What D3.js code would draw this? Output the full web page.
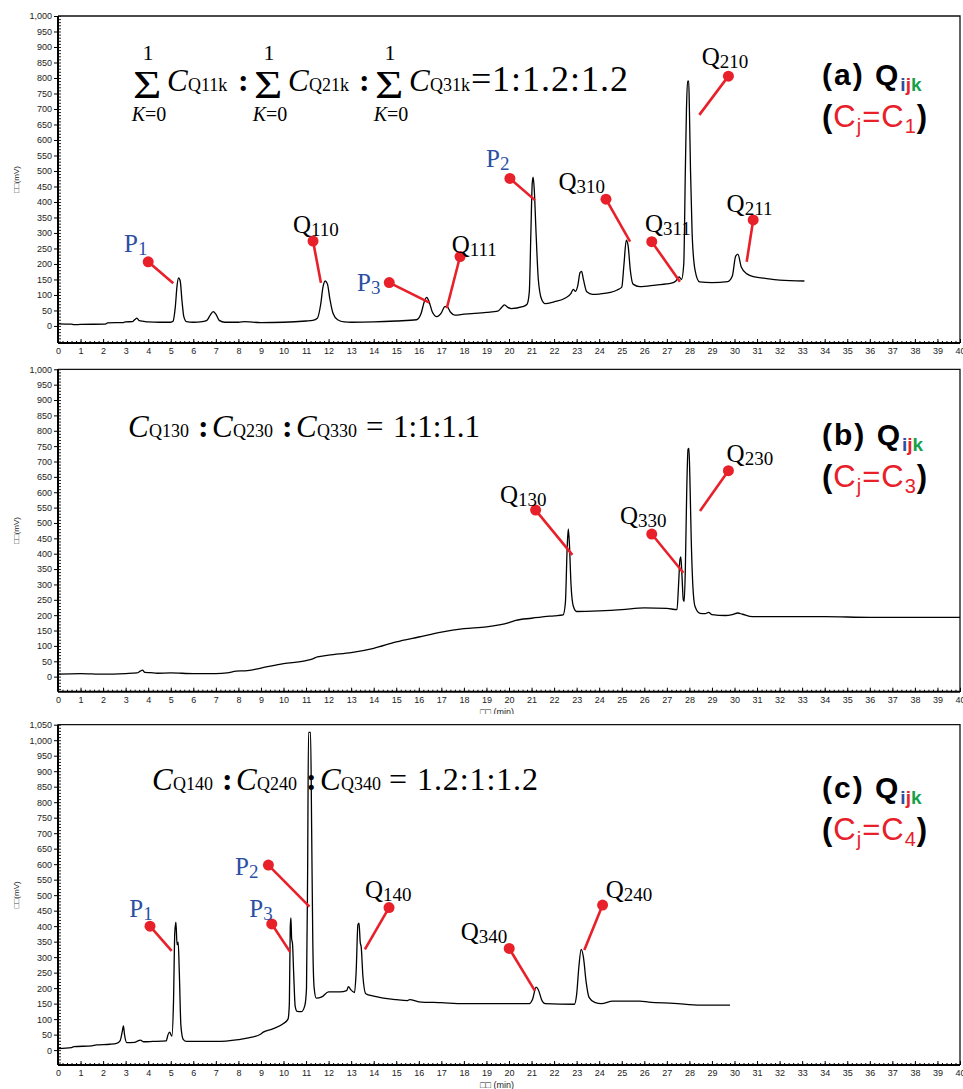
<!DOCTYPE html>
<html>
<head>
<meta charset="utf-8">
<script src="https://cdnjs.cloudflare.com/ajax/libs/d3/7.8.5/d3.min.js"></script>
<style>
  body { margin: 0; background: #fff; }
  svg { display: block; }
  .tick text { font-family: "Liberation Sans", Arial, sans-serif; font-size: 9px; fill: #222; }
  .serif { font-family: "Liberation Serif", "Times New Roman", serif; }
  .sans { font-family: "Liberation Sans", Arial, sans-serif; }
</style>
</head>
<body>
<svg id="chart" width="963" height="1089"></svg>
<script>
// chromatogram traces, [time (min), signal]
const traceA = [
  [0,7],[0.6,6],[0.7,4],[1.0,5],[2.1,6],[2.2,10],[2.9,11],[3.0,13],[3.3,14],[3.4,20],[3.5,25],[3.6,17],
  [3.8,15],[4.0,13],[4.5,12],[5.0,12],[5.1,15],[5.2,60],[5.28,130],[5.35,155],[5.42,145],[5.5,80],
  [5.58,30],[5.7,14],[6.0,12],[6.4,14],[6.6,18],[6.75,35],[6.88,46],[7.0,38],[7.15,18],[7.4,12],
  [8.0,12],[8.3,14],[8.5,13],[9.0,11],[10.0,12],[11.0,16],[11.3,18],[11.5,25],[11.65,70],[11.75,125],
  [11.85,145],[11.95,135],[12.05,90],[12.2,40],[12.4,20],[12.7,13],[13.0,12],[14.0,13],[15.0,16],
  [15.9,20],[16.1,40],[16.25,80],[16.35,92],[16.45,80],[16.6,45],[16.8,30],[17.0,42],[17.15,62],
  [17.25,63],[17.4,45],[17.6,35],[18.0,38],[19.0,44],[19.5,48],[19.7,62],[19.8,68],[19.95,60],
  [20.1,56],[20.6,62],[20.8,70],[20.9,110],[20.97,300],[21.03,460],[21.07,480],[21.12,440],[21.2,300],
  [21.3,150],[21.45,85],[21.6,72],[22.0,78],[22.5,90],[22.75,105],[22.85,118],[22.95,112],[23.05,130],
  [23.15,172],[23.22,176],[23.3,150],[23.45,110],[23.7,102],[24.0,103],[24.5,108],[24.8,116],[25.0,125],
  [25.1,200],[25.2,277],[25.28,260],[25.38,180],[25.5,135],[25.8,127],[26.5,132],[27.2,138],[27.4,145],
  [27.55,158],[27.65,150],[27.75,200],[27.82,500],[27.87,700],[27.92,790],[27.97,790],[28.0,700],
  [28.05,500],[28.12,300],[28.25,180],[28.45,142],[29.0,140],[29.7,143],[29.9,160],[30.05,225],
  [30.15,232],[30.3,190],[30.55,168],[30.9,158],[31.3,154],[32.0,148],[33.1,145]
];

const traceB = [
  [0,8],[1,10],[2,8],[3,10],[3.5,12],[3.65,18],[3.75,21],[3.85,14],[4.1,13],[4.4,11],[5,12],[6,10],
  [7,10],[7.5,12],[7.9,18],[8.3,19],[9,28],[10,42],[11,52],[11.3,58],[11.5,64],[12,70],[13,78],[14,92],
  [15,113],[16,129],[17,145],[18,156],[19,162],[20,176],[20.3,183],[21,190],[22,198],[22.4,201],
  [22.5,240],[22.58,420],[22.63,481],[22.68,430],[22.75,300],[22.85,230],[23.0,212],[24,214],[25,218],
  [26,224],[27,222],[27.45,218],[27.52,300],[27.58,380],[27.62,390],[27.67,330],[27.73,250],[27.77,245],
  [27.82,350],[27.88,600],[27.94,740],[27.98,743],[28.02,650],[28.08,450],[28.15,300],[28.25,228],
  [28.47,206],[28.7,205],[28.85,209],[29.0,202],[29.6,199],[29.9,202],[30.15,207],[30.35,203],
  [30.8,195],[32,195],[34,195],[36,193],[40,193]
];

const traceC = [
  [0,5],[0.6,8],[0.7,11],[1.5,14],[1.7,17],[2.3,19],[2.6,22],[2.75,30],[2.85,60],[2.9,78],[2.95,50],
  [3.05,24],[3.4,25],[3.55,30],[3.65,32],[3.8,27],[4.2,28],[4.8,30],[4.88,50],[4.95,58],[5.05,45],
  [5.12,150],[5.18,380],[5.23,413],[5.28,340],[5.33,348],[5.38,250],[5.45,80],[5.55,35],[5.7,28],
  [7,28],[8,34],[8.5,40],[9,52],[9.1,58],[9.5,68],[10,86],[10.2,100],[10.26,150],[10.3,400],[10.33,427],
  [10.36,360],[10.4,343],[10.45,250],[10.52,140],[10.6,125],[10.8,124],[10.95,145],[11.02,200],
  [11.07,580],[11.11,1025],[11.2,1025],[11.25,700],[11.3,345],[11.36,200],[11.45,168],[11.7,172],
  [12.0,188],[12.5,188],[12.8,192],[12.88,205],[12.98,195],[13.15,186],[13.22,250],[13.3,405],
  [13.35,410],[13.4,350],[13.45,330],[13.52,240],[13.65,182],[14,174],[15,163],[15.5,160],[15.6,163],
  [16,156],[17,153],[18,150],[19,150],[20.9,150],[21.05,165],[21.2,203],[21.3,195],[21.45,162],
  [21.6,150],[22.9,148],[23.0,180],[23.1,270],[23.2,325],[23.3,300],[23.42,220],[23.55,170],
  [23.8,154],[24.1,150],[24.6,158],[25.8,158],[26.2,155],[27.3,151],[28.5,145],[29.8,145]
];

// peak call-outs: dot, line tip and label anchor in (time, signal)
const peaksA = [
  { name: 'P', sub: '1', dot: [4.0, 207], tip: [5.11, 138], label: [2.93, 240] },
  { name: 'Q', sub: '110', dot: [11.31, 274], tip: [11.66, 139], label: [10.42, 300] },
  { name: 'P', sub: '3', dot: [14.69, 140], tip: [16.47, 75], label: [13.26, 112] },
  { name: 'Q', sub: '111', dot: [17.83, 224], tip: [17.24, 57], label: [17.46, 234] },
  { name: 'P', sub: '2', dot: [20.04, 476], tip: [21.15, 406], label: [18.98, 514] },
  { name: 'Q', sub: '310', dot: [24.3, 409], tip: [25.37, 272], label: [22.19, 439] },
  { name: 'Q', sub: '311', dot: [26.33, 272], tip: [27.58, 143], label: [26.03, 304] },
  { name: 'Q', sub: '210', dot: [29.73, 806], tip: [28.44, 681], label: [28.55, 842] },
  { name: 'Q', sub: '211', dot: [30.83, 342], tip: [30.54, 207], label: [29.65, 369] }
];
const peaksB = [
  { name: 'Q', sub: '130', dot: [21.18, 542], tip: [22.81, 396], label: [19.6, 564] },
  { name: 'Q', sub: '330', dot: [26.33, 464], tip: [27.73, 338], label: [24.92, 497] },
  { name: 'Q', sub: '230', dot: [29.73, 670], tip: [28.47, 539], label: [29.65, 699] }
];
const peaksC = [
  { name: 'P', sub: '1', dot: [4.08, 400], tip: [5.04, 320], label: [3.16, 430] },
  { name: 'P', sub: '2', dot: [9.33, 597], tip: [11.15, 463], label: [7.85, 565] },
  { name: 'P', sub: '3', dot: [9.48, 407], tip: [10.29, 317], label: [8.48, 430] },
  { name: 'Q', sub: '140', dot: [14.68, 460], tip: [13.61, 325], label: [13.61, 490] },
  { name: 'Q', sub: '340', dot: [20.01, 328], tip: [21.15, 191], label: [17.86, 355] },
  { name: 'Q', sub: '240', dot: [24.15, 468], tip: [23.34, 323], label: [24.29, 490] }
];

// axis ticks
const xTicks = d3.range(0, 41);
const xMinor = d3.range(0, 40.01, 0.2);
const yTicksAB = d3.range(0, 1001, 50);
const yTicksC = d3.range(0, 1051, 50);

// ratio texts
const ratioA = ['1', '1.2', '1.2'];
const ratioB = ['1', '1', '1.1'];
const ratioC = ['1.2', '1', '1.2'];

const RED = '#e8202a', BLUE = '#2c4fa3', GREEN = '#15a04a';

const svg = d3.select('#chart');

const x = d3.scaleLinear().domain([0, 40]).range([58, 960]);

const panels = [
  { id: 'a', trace: traceA, peaks: peaksA, yTicks: yTicksAB, yDomain: [-55, 1000], yRange: [343, 16], top: 0, cj: '1', tagY: 85 },
  { id: 'b', trace: traceB, peaks: peaksB, yTicks: yTicksAB, yDomain: [-49, 1000], yRange: [691.7, 369.3], top: 360, cj: '3', tagY: 445 },
  { id: 'c', trace: traceC, peaks: peaksC, yTicks: yTicksC, yDomain: [-48, 1050], yRange: [1065, 724.7], top: 714, cj: '4', tagY: 798 }
];

panels.forEach(p => {
  const y = d3.scaleLinear().domain(p.yDomain).range(p.yRange);
  const g = svg.append('g').attr('class', 'panel-' + p.id);
  const [yBot, yTop] = p.yRange;

  // white backdrop so a panel covers the one above
  g.append('rect').attr('x', 0).attr('y', p.top).attr('width', 963).attr('height', yBot + 28 - p.top).attr('fill', '#fff');

  // frame top + right
  g.append('path')
    .attr('d', `M${x(0)},${yTop}H${x(40)}V${yBot}`)
    .attr('fill', 'none').attr('stroke', '#111').attr('stroke-width', 1.3);

  // y axis
  g.append('g').attr('transform', `translate(${x(0)},0)`)
    .call(d3.axisLeft(y).tickValues(d3.range(p.yDomain[0] < -50 ? -50 : -40, p.yTicks[p.yTicks.length - 1] + 1, 10)).tickSize(3).tickFormat(''))
    .call(a => a.select('.domain').remove())
    .call(a => a.selectAll('line').attr('x2', 3).attr('x1', -1).attr('stroke', '#222'));
  g.append('g').attr('transform', `translate(${x(0)},0)`)
    .call(d3.axisLeft(y).tickValues(p.yTicks).tickSize(4).tickPadding(2).tickFormat(d3.format(',')))
    .call(a => a.select('.domain').attr('d', `M0,${yBot}V${yTop}`).attr('stroke-width', 2));

  // x axis: minor + major ticks pointing up, labels below
  g.append('g').attr('transform', `translate(0,${yBot})`)
    .call(d3.axisBottom(x).tickValues(xMinor).tickSize(-2).tickFormat(''))
    .call(a => a.select('.domain').remove());
  g.append('g').attr('transform', `translate(0,${yBot})`)
    .call(d3.axisBottom(x).tickValues(xTicks).tickSize(-4).tickPadding(7).tickFormat(d3.format('d')))
    .call(a => a.select('.domain').attr('d', `M${x(0)},0H${x(40)}`).attr('stroke-width', 2))
    .call(a => a.selectAll('text').attr('dy', '0.45em'));

  // y label
  g.append('text').attr('class', 'sans')
    .attr('transform', `translate(19,${(yTop + yBot) / 2}) rotate(-90)`)
    .attr('text-anchor', 'middle').attr('font-size', 8).attr('fill', '#222')
    .text('\u25A1\u25A1(mV)');
  if (p.id !== 'a') {
    g.append('text').attr('class', 'sans')
      .attr('x', 497).attr('y', yBot + 23).attr('text-anchor', 'middle')
      .attr('font-size', 9).attr('fill', '#222').text('\u25A1\u25A1 (min)');
  }

  // trace
  g.append('path').datum(p.trace)
    .attr('fill', 'none').attr('stroke', '#000').attr('stroke-width', 1.3)
    .attr('stroke-linejoin', 'round')
    .attr('d', d3.line().x(d => x(d[0])).y(d => y(d[1])).curve(d3.curveMonotoneX));

  // call-outs
  const c = g.selectAll('.callout').data(p.peaks).join('g').attr('class', 'callout');
  c.append('line')
    .attr('x1', d => x(d.dot[0])).attr('y1', d => y(d.dot[1]))
    .attr('x2', d => x(d.tip[0])).attr('y2', d => y(d.tip[1]))
    .attr('stroke', RED).attr('stroke-width', 2.6);
  c.append('circle')
    .attr('cx', d => x(d.dot[0])).attr('cy', d => y(d.dot[1])).attr('r', 5.5).attr('fill', RED);
  const t = c.append('text').attr('class', 'serif')
    .attr('x', d => x(d.label[0])).attr('y', d => y(d.label[1]))
    .attr('fill', d => d.name === 'P' ? BLUE : '#000');
  t.append('tspan').attr('font-size', 25).text(d => d.name);
  t.append('tspan').attr('font-size', 19).attr('dy', 3).text(d => d.sub);

  // panel tag "(a) Qijk (Cj=C1)"
  const tag = g.append('text').attr('class', 'sans').attr('x', 822).attr('y', p.tagY)
    .attr('font-size', 30).attr('font-weight', 'bold');
  tag.append('tspan').attr('fill', '#000').attr('letter-spacing', 2).text(`(${p.id}) Q`);
  tag.append('tspan').attr('font-size', 19).attr('dy', 6).attr('fill', BLUE).text('i');
  tag.append('tspan').attr('font-size', 19).attr('fill', RED).text('j');
  tag.append('tspan').attr('font-size', 19).attr('fill', GREEN).text('k');
  const tag2 = g.append('text').attr('class', 'sans').attr('x', 822).attr('y', p.tagY + 42)
    .attr('font-size', 31).attr('letter-spacing', 1);
  tag2.append('tspan').attr('font-weight', 'bold').attr('fill', '#000').text('(');
  tag2.append('tspan').attr('fill', RED).text('C');
  tag2.append('tspan').attr('fill', RED).attr('font-size', 20).attr('dy', 6).text('j');
  tag2.append('tspan').attr('fill', RED).attr('dy', -6).text('=C');
  tag2.append('tspan').attr('fill', RED).attr('font-size', 20).attr('dy', 6).text(p.cj);
  tag2.append('tspan').attr('font-weight', 'bold').attr('fill', '#000').attr('dy', -6).text(')');
});

// ratio formulas
function cTerm(parent, xPos, base, sub) {
  parent.append('text').attr('class', 'serif').attr('x', xPos).attr('y', base)
    .attr('font-size', 31).attr('font-style', 'italic').text('C');
  parent.append('text').attr('class', 'serif').attr('x', xPos + 21).attr('y', base)
    .attr('font-size', 18).text(sub);
}
function colon(parent, xPos, base) {
  parent.append('text').attr('class', 'serif').attr('x', xPos).attr('y', base)
    .attr('font-size', 32).attr('font-weight', 'bold').text(':');
}
function ratio(parent, xEq, xNum, base, vals, size, w) {
  parent.append('text').attr('class', 'serif').attr('x', xEq).attr('y', base)
    .attr('font-size', size).text('=');
  parent.append('text').attr('class', 'serif').attr('x', xNum).attr('y', base)
    .attr('font-size', size).attr('textLength', w).attr('lengthAdjust', 'spacing')
    .text(vals.join(':'));
}

const fa = svg.append('g');
[['Q11k', 133], ['Q21k', 254], ['Q31k', 375]].forEach(([sub, sx], i) => {
  fa.append('text').attr('class', 'serif')
    .attr('transform', `translate(${sx},98) scale(1.22,1)`).attr('font-size', 40).text('\u03A3');
  fa.append('text').attr('class', 'serif').attr('x', sx + 15).attr('y', 60).attr('font-size', 22)
    .attr('text-anchor', 'middle').text('1');
  const k = fa.append('text').attr('class', 'serif').attr('x', sx + 16).attr('y', 121).attr('font-size', 20)
    .attr('text-anchor', 'middle');
  k.append('tspan').attr('font-style', 'italic').text('K');
  k.append('tspan').text('=0');
  cTerm(fa, sx + 34, 91, sub);
  if (i < 2) colon(fa, sx + 105, 91);
});
ratio(fa, 471, 492, 91, ratioA, 36, 136);

const fb = svg.append('g');
[['Q130', 128], ['Q230', 212], ['Q330', 296]].forEach(([sub, sx], i) => {
  cTerm(fb, sx, 436.7, sub);
  if (i < 2) colon(fb, sx + 70, 436.7);
});
ratio(fb, 366, 393, 436.7, ratioB, 31, 87);

const fc = svg.append('g');
[['Q140', 152], ['Q240', 236], ['Q340', 320]].forEach(([sub, sx], i) => {
  cTerm(fc, sx, 790, sub);
  if (i < 2) colon(fc, sx + 70, 790);
});
ratio(fc, 389, 417, 790, ratioC, 32, 121);
</script>
</body>
</html>
